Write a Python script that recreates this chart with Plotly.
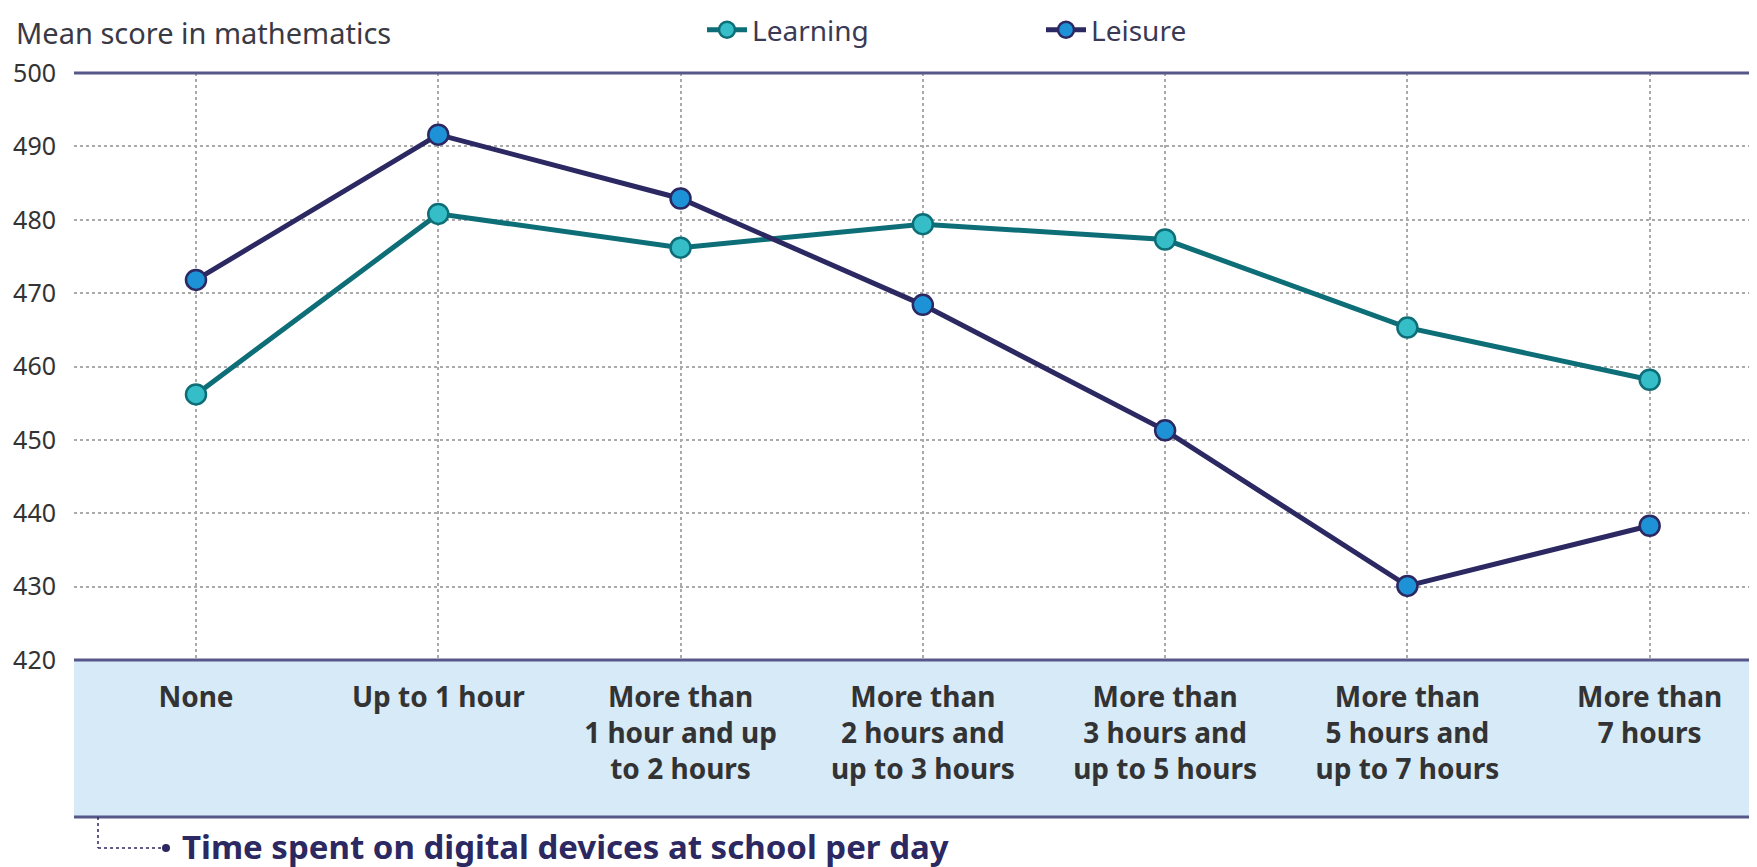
import plotly.graph_objects as go

categories = ["None", "Up to 1 hour", "More than<br>1 hour and up<br>to 2 hours",
              "More than<br>2 hours and<br>up to 3 hours", "More than<br>3 hours and<br>up to 5 hours",
              "More than<br>5 hours and<br>up to 7 hours", "More than<br>7 hours"]
learning = [456.2, 480.8, 476.2, 479.4, 477.3, 465.3, 458.2]
leisure = [471.8, 491.6, 482.9, 468.4, 451.3, 430.1, 438.3]
y_ticks = [420, 430, 440, 450, 460, 470, 480, 490, 500]

W, H = 1757, 867
OFF = 8  # page body margin
L = 74 - OFF
T = 73 - OFF
PB = 660 - OFF
R = OFF
plot_h = PB - T
plot_w = W - R - L

NAVY = "#2b2862"
TEAL = "#0d6e77"
FONT = "Noto Sans"

xs = list(range(len(categories)))
fig = go.Figure()
fig.add_trace(go.Scatter(
    x=xs, y=learning, name="Learning", mode="lines+markers",
    line=dict(color=TEAL, width=5),
    marker=dict(size=20, color="#36bec8", line=dict(color=TEAL, width=2.5)),
))
fig.add_trace(go.Scatter(
    x=xs, y=leisure, name="Leisure", mode="lines+markers",
    line=dict(color=NAVY, width=5),
    marker=dict(size=20, color="#1e92d6", line=dict(color=NAVY, width=2.5)),
))

def py(p):  # window px -> paper
    return 1 - (p - OFF - T) / plot_h

def px(p):
    return (p - OFF - L) / plot_w

band_bottom = 817
title_y = 846
shapes = [
    dict(type="rect", xref="paper", yref="paper", x0=0, x1=1, y0=py(band_bottom), y1=0,
         fillcolor="#d6eaf8", line=dict(width=0), layer="below"),
    dict(type="line", xref="paper", yref="paper", x0=0, x1=1, y0=1, y1=1,
         line=dict(color="#57578a", width=3)),
    dict(type="line", xref="paper", yref="paper", x0=0, x1=1, y0=0, y1=0,
         line=dict(color="#57578a", width=3)),
    dict(type="line", xref="paper", yref="paper", x0=0, x1=1, y0=py(band_bottom), y1=py(band_bottom),
         line=dict(color="#57578a", width=3)),
    dict(type="line", xref="paper", yref="paper", x0=px(98), x1=px(98), y0=py(band_bottom), y1=py(title_y + 2),
         line=dict(color=NAVY, width=1.5, dash="dot")),
    dict(type="line", xref="paper", yref="paper", x0=px(98), x1=px(163), y0=py(title_y + 2), y1=py(title_y + 2),
         line=dict(color=NAVY, width=1.5, dash="dot")),
    dict(type="circle", xref="paper", yref="paper", x0=px(162), x1=px(170), y0=py(title_y - 2), y1=py(title_y + 6),
         fillcolor=NAVY, line=dict(color=NAVY, width=0)),
]

fig.update_layout(
    width=W, height=H,
    margin=dict(l=L, r=R, t=T, b=H - PB, autoexpand=False),
    paper_bgcolor="white", plot_bgcolor="white",
    font=dict(family=FONT, color="#333333", size=22),
    showlegend=True,
    legend=dict(orientation="h", x=px(702), xanchor="left", y=py(30), yanchor="middle",
                font=dict(size=28, color="#3a3a55", family=FONT),
                entrywidth=284, entrywidthmode="pixels", itemwidth=40,
                bgcolor="rgba(0,0,0,0)"),
    shapes=shapes,
    annotations=[
        dict(text="Mean score in mathematics", xref="paper", yref="paper",
             x=px(14), y=py(32), xanchor="left", yanchor="middle", showarrow=False,
             font=dict(size=29, color="#3a3a45", family=FONT)),
        dict(text="<b>Time spent on digital devices at school per day</b>", xref="paper", yref="paper",
             x=px(180), y=py(title_y), xanchor="left", yanchor="middle", showarrow=False,
             font=dict(size=33, color=NAVY, family=FONT)),
    ],
)

fig.update_xaxes(
    range=[-0.5035, 6.443], tickmode="array", tickvals=xs,
    ticktext=["<b>" + c.replace("<br>", "</b><br><b>") + "</b>" for c in categories],
    tickfont=dict(size=28, color="#333333", family=FONT),
    showgrid=True, gridcolor="#aaaaaa", griddash="dot", gridwidth=1.5,
    ticks="outside", ticklen=12, tickcolor="rgba(0,0,0,0)",
    showline=False, zeroline=False, fixedrange=True,
)
fig.update_yaxes(
    range=[420, 500], tickmode="array", tickvals=y_ticks,
    tickfont=dict(size=25, color="#333333", family=FONT),
    showgrid=True, gridcolor="#aaaaaa", griddash="dot", gridwidth=1.5,
    ticks="outside", ticklen=12, tickcolor="rgba(0,0,0,0)",
    showline=False, zeroline=False, fixedrange=True,
)

fig.write_html("out.html")
